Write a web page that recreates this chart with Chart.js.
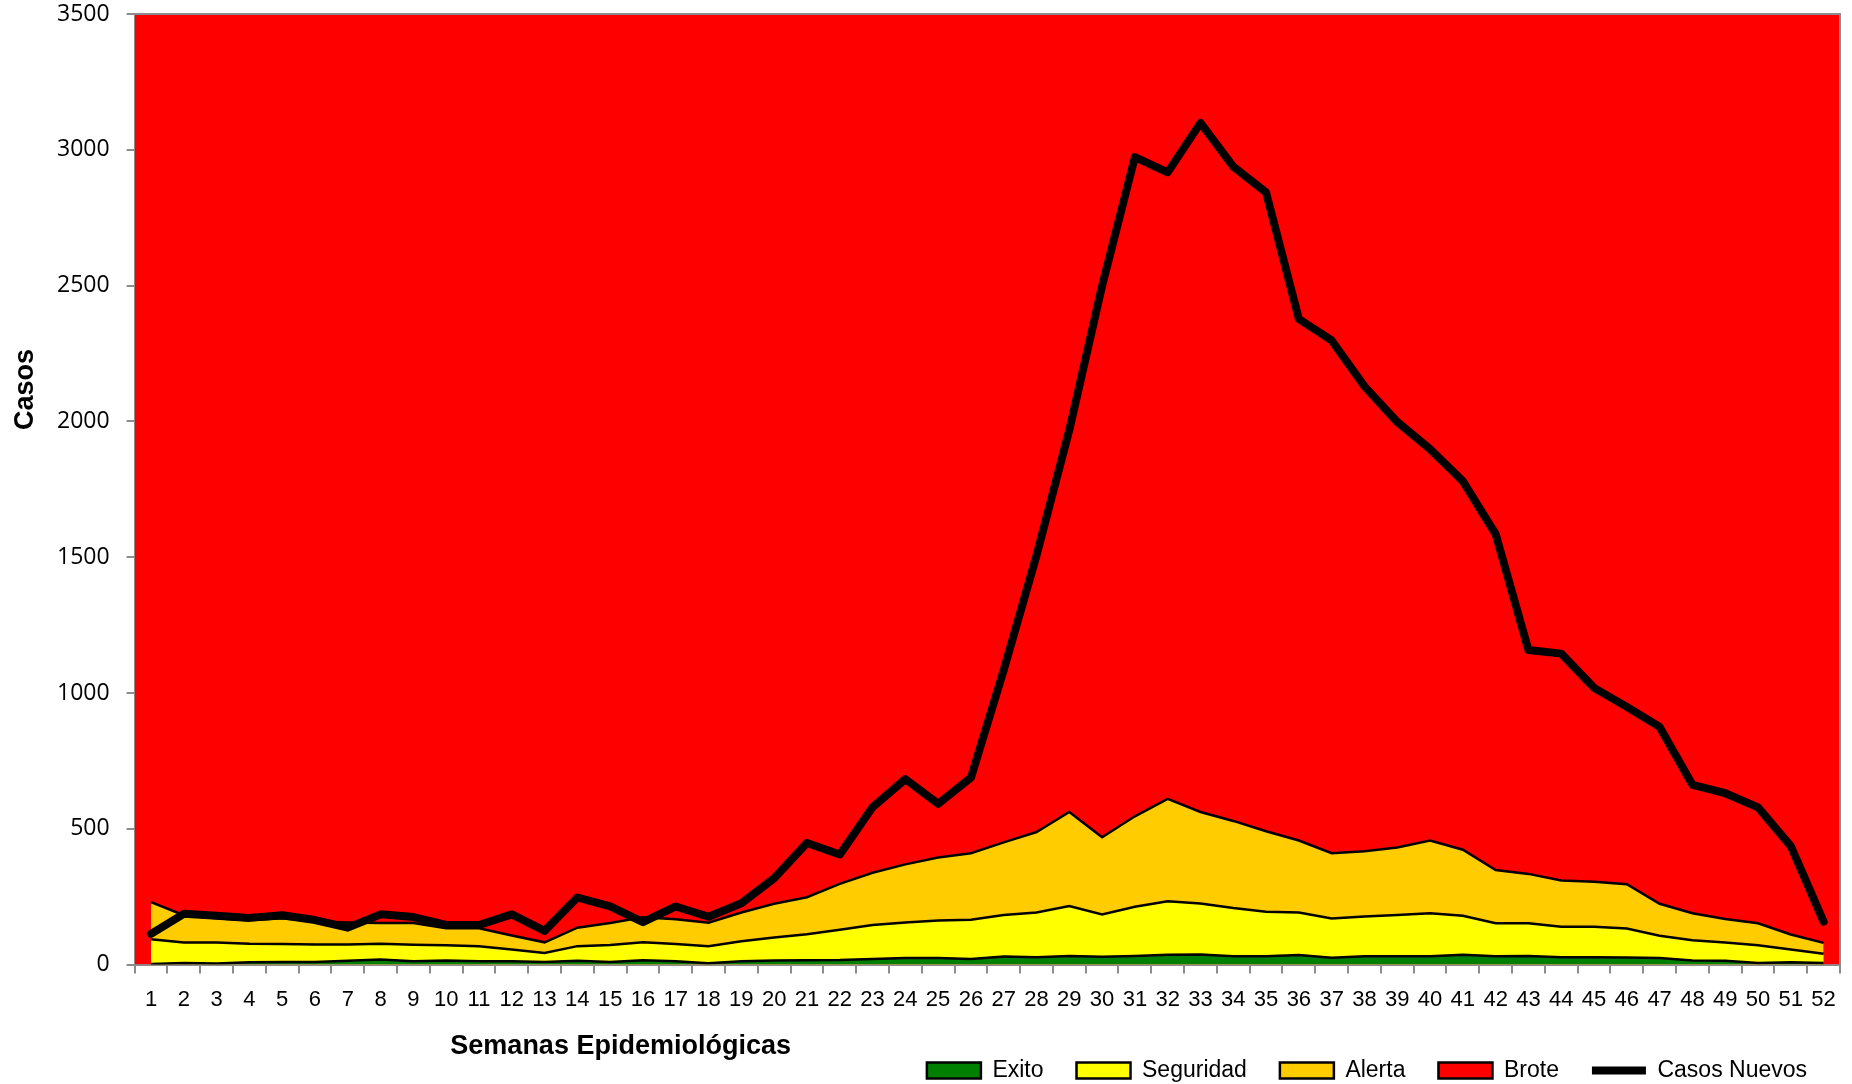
<!DOCTYPE html>
<html>
<head>
<meta charset="utf-8">
<script src="https://cdn.jsdelivr.net/npm/chart.js@4.4.1/dist/chart.umd.min.js"></script>
<style>
  html, body { margin: 0; padding: 0; background: #ffffff; }
  #wrap { width: 1852px; height: 1084px; position: relative; }
</style>
</head>
<body>
<div id="wrap"><canvas id="chart"></canvas></div>
<script>
// Data
var semanas = ["1","2","3","4","5","6","7","8","9","10","11","12","13","14","15","16","17","18","19","20","21","22","23","24","25","26",
               "27","28","29","30","31","32","33","34","35","36","37","38","39","40","41","42","43","44","45","46","47","48","49","50","51","52"];

var exito = [2,6,4,9,10,10,14,19,12,15,12,12,10,14,10,16,12,5,12,15,16,17,21,24,24,21,
             30,27,32,29,32,36,37,31,31,35,25,31,31,31,36,31,32,27,27,26,24,15,14,6,9,6];

var seguridad = [93,81,81,77,76,74,74,77,73,71,68,56,43,68,72,82,76,68,86,100,112,128,146,155,162,165,
                 183,192,216,185,213,233,225,208,195,192,170,177,183,189,180,152,152,139,139,133,106,90,81,71,56,40];

var alerta = [230,182,171,163,171,159,155,153,153,134,134,107,82,136,153,174,167,154,192,224,248,297,338,369,394,410,
              450,488,562,469,546,610,562,529,491,457,410,417,431,457,423,348,334,310,305,296,224,189,168,152,111,80];

var brote = [3500,3500,3500,3500,3500,3500,3500,3500,3500,3500,3500,3500,3500,3500,3500,3500,3500,3500,3500,3500,3500,3500,3500,3500,3500,3500,
             3500,3500,3500,3500,3500,3500,3500,3500,3500,3500,3500,3500,3500,3500,3500,3500,3500,3500,3500,3500,3500,3500,3500,3500,3500,3500];

var casosNuevos = [113,187,180,172,182,164,136,185,175,146,146,185,124,247,214,156,214,176,226,318,448,405,579,683,592,688,
                   1084,1506,1968,2499,2973,2917,3099,2938,2843,2377,2298,2129,1998,1898,1780,1585,1158,1145,1019,949,875,662,631,579,436,158];

var yTicks = [0,500,1000,1500,2000,2500,3000,3500];

var GRIS = '#8c8c8c';

// titles + frame drawn by hand (Excel puts them off-centre)
var extras = {
    id: 'extras',
    afterDraw: function(chart) {
        var ctx = chart.ctx;
        var a = chart.chartArea;
        ctx.save();
        ctx.strokeStyle = GRIS;
        ctx.lineWidth = 2;
        ctx.beginPath();
        ctx.moveTo(a.left, a.top);
        ctx.lineTo(a.right, a.top);
        ctx.lineTo(a.right, a.bottom);
        ctx.stroke();

        ctx.fillStyle = '#000';
        ctx.font = 'bold 27px "Liberation Sans", Arial, sans-serif';
        ctx.textAlign = 'center';
        ctx.textBaseline = 'middle';
        ctx.fillText('Semanas Epidemiológicas', a.left + (a.right - a.left) * 0.285, 1047);

        ctx.translate(26, a.top + (a.bottom - a.top) * 0.395);
        ctx.rotate(-Math.PI / 2);
        ctx.fillText('Casos', 0, 0);
        ctx.restore();
    }
};

var ctx = document.getElementById('chart');
var myChart = new Chart(ctx, {
    type: 'line',
    data: {
        labels: semanas,
        datasets: [
            { label: 'Exito', data: exito, backgroundColor: '#008000', borderColor: '#000', borderWidth: 2.5,
              fill: 'origin', pointRadius: 0, pointStyle: 'rect', tension: 0, order: 1 },
            { label: 'Seguridad', data: seguridad, backgroundColor: '#ffff00', borderColor: '#000', borderWidth: 2.5,
              fill: 'origin', pointRadius: 0, pointStyle: 'rect', tension: 0, order: 2 },
            { label: 'Alerta', data: alerta, backgroundColor: '#ffcc00', borderColor: '#000', borderWidth: 2.5,
              fill: 'origin', pointRadius: 0, pointStyle: 'rect', tension: 0, order: 3 },
            { label: 'Brote', data: brote, xAxisID: 'x2', backgroundColor: '#ff0000', borderColor: '#000', borderWidth: 0,
              fill: 'origin', pointRadius: 0, pointStyle: 'rect', tension: 0, order: 4 },
            { label: 'Casos Nuevos', data: casosNuevos, borderColor: '#000', backgroundColor: '#000', borderWidth: 8,
              borderCapStyle: 'round', borderJoinStyle: 'round', fill: false, pointRadius: 0, pointStyle: 'line', tension: 0, order: 0 }
        ]
    },
    options: {
        responsive: true,
        maintainAspectRatio: false,
        animation: false,
        layout: { padding: { left: 40, right: 12, top: 14, bottom: -8 } },
        plugins: {
            tooltip: { enabled: false },
            legend: {
                position: 'bottom',
                align: 'end',
                labels: {
                    usePointStyle: true,
                    pointStyleWidth: 54,
                    boxHeight: 16,
                    padding: 33,
                    color: '#000',
                    font: { family: '"Liberation Sans", Arial, sans-serif', size: 23 },
                    sort: function(a, b) { return a.datasetIndex - b.datasetIndex; },
                    generateLabels: function(chart) {
                        var items = Chart.defaults.plugins.legend.labels.generateLabels(chart);
                        items.forEach(function(it) {
                            if (it.pointStyle !== 'line') {
                                it.lineWidth = 2.5;
                                it.strokeStyle = '#000';
                            }
                        });
                        return items;
                    }
                }
            }
        },
        scales: {
            x: {
                type: 'category',
                offset: true,
                grid: { offset: true, drawOnChartArea: false, color: GRIS, lineWidth: 2, tickLength: 9 },
                border: { color: GRIS, width: 2 },
                ticks: {
                    color: '#000',
                    padding: 13,
                    maxRotation: 0,
                    autoSkip: false,
                    font: { family: '"Liberation Sans", Arial, sans-serif', size: 22 }
                }
            },
            x2: {
                type: 'category',
                labels: semanas,
                offset: false,
                display: false
            },
            y: {
                min: 0,
                max: 3500,
                afterBuildTicks: function(axis) {
                    axis.ticks = yTicks.map(function(v) { return { value: v }; });
                },
                afterFit: function(axis) {
                    axis.paddingTop = 0;
                    axis.paddingBottom = 0;
                },
                grid: { color: GRIS, lineWidth: 2, tickLength: 8 },
                border: { color: GRIS, width: 2 },
                ticks: {
                    color: '#000',
                    padding: 17,
                    font: { family: '"Open Sans", sans-serif', size: 23 },
                    callback: function(v) { return String(v); }
                }
            }
        }
    },
    plugins: [extras]
});
</script>
</body>
</html>
